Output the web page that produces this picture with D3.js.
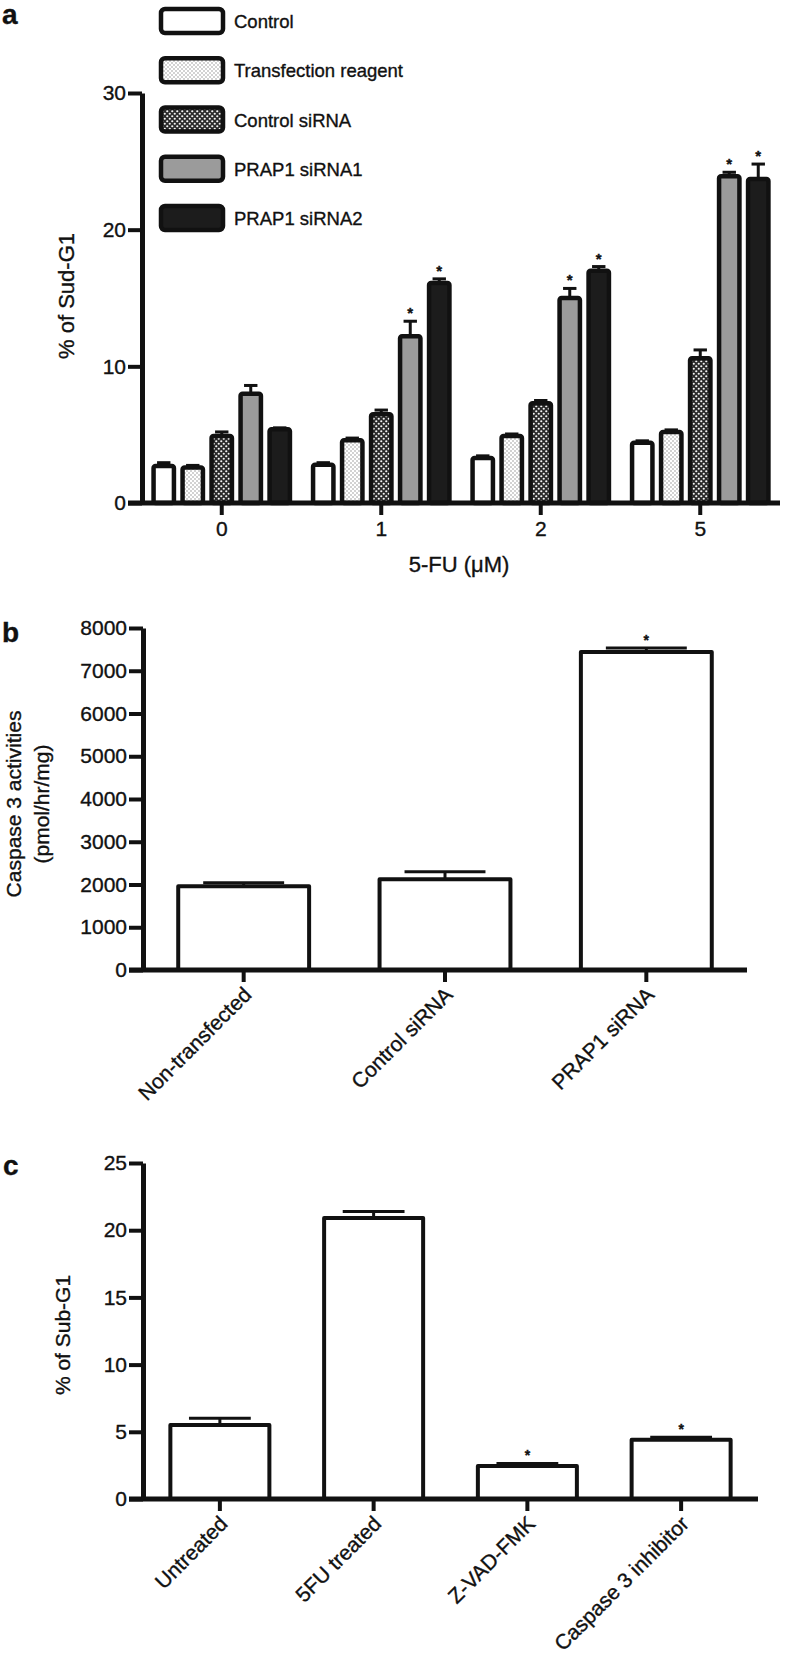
<!DOCTYPE html>
<html>
<head>
<meta charset="utf-8">
<script src="https://cdn.jsdelivr.net/npm/d3@7"></script>
<style>
  html, body { margin: 0; padding: 0; background: #fff; }
  svg text { font-family: "Liberation Sans", Arial, Helvetica, sans-serif; fill: #111; stroke: #111; stroke-width: 0.35px; }
</style>
</head>
<body>
<div id="chart"></div>
<script>
// ---- panel a data ----
const doses = ['0', '1', '2', '5'];
const seriesNames = ['Control', 'Transfection reagent', 'Control siRNA', 'PRAP1 siRNA1', 'PRAP1 siRNA2'];
const controlVals = [2.7, 2.8, 3.3, 4.4];
const transfVals = [2.6, 4.6, 4.9, 5.2];
const ctrlSiVals = [4.9, 6.5, 7.3, 10.6];
const si1Vals = [8.0, 12.2, 15.0, 23.9];
const si2Vals = [5.4, 16.1, 17.0, 23.7];
const controlErr = [0.25, 0.15, 0.15, 0.15];
const transfErr = [0.15, 0.15, 0.15, 0.15];
const ctrlSiErr = [0.3, 0.3, 0.2, 0.6];
const si1Err = [0.6, 1.1, 0.7, 0.3];
const si2Err = [0.1, 0.3, 0.3, 1.1];
const si1Star = [false, true, true, true];
const si2Star = [false, true, true, true];
const aTicks = [0, 10, 20, 30];

// ---- panel b data ----
const bCats = ['Non-transfected', 'Control siRNA', 'PRAP1 siRNA'];
const bVals = [1960, 2120, 7440];
const bErr = [80, 180, 90];
const bStar = [false, false, true];
const bTicks = [0, 1000, 2000, 3000, 4000, 5000, 6000, 7000, 8000];

// ---- panel c data ----
const cCats = ['Untreated', '5FU treated', 'Z-VAD-FMK', 'Caspase 3 inhibitor'];
const cVals = [5.5, 20.9, 2.45, 4.4];
const cErr = [0.5, 0.5, 0.2, 0.2];
const cStar = [false, false, true, true];
const cTicks = [0, 5, 10, 15, 20, 25];

const W = 789, H = 1656;
const ink = '#111';
const font = 21;

const svg = d3.select('#chart').append('svg')
  .attr('width', W).attr('height', H);

// patterns for the dotted bars
const defs = svg.append('defs');
const pLight = defs.append('pattern').attr('id', 'dotsLight')
  .attr('patternUnits', 'userSpaceOnUse').attr('width', 4).attr('height', 4);
pLight.append('rect').attr('width', 4).attr('height', 4).attr('fill', '#fff');
pLight.append('circle').attr('cx', 1).attr('cy', 1).attr('r', 0.8).attr('fill', '#999');
pLight.append('circle').attr('cx', 3).attr('cy', 3).attr('r', 0.8).attr('fill', '#999');

const pDark = defs.append('pattern').attr('id', 'dotsDark')
  .attr('patternUnits', 'userSpaceOnUse').attr('width', 5).attr('height', 5);
pDark.append('rect').attr('width', 5).attr('height', 5).attr('fill', '#2a2a2a');
pDark.append('circle').attr('cx', 1.25).attr('cy', 1.25).attr('r', 1.1).attr('fill', '#f4f4f4');
pDark.append('circle').attr('cx', 3.75).attr('cy', 3.75).attr('r', 1.1).attr('fill', '#f4f4f4');

const seriesFill = ['#fff', 'url(#dotsLight)', 'url(#dotsDark)', '#9b9b9b', '#1c1c1c'];

function panelLabel(txt, x, y) {
  svg.append('text').attr('x', x).attr('y', y)
    .attr('font-size', 28).attr('font-weight', 'bold').text(txt);
}

// y axis with thick spine and ticks
function drawYAxis(y, x0, ticks, fmt) {
  const g = svg.append('g').attr('transform', `translate(${x0},0)`)
    .call(d3.axisLeft(y).tickValues(ticks).tickSize(14).tickSizeOuter(0).tickPadding(2).tickFormat(fmt));
  g.select('.domain').attr('stroke', ink).attr('stroke-width', 5);
  g.selectAll('.tick line').attr('stroke', ink).attr('stroke-width', 4);
  g.selectAll('.tick text').attr('font-size', font).attr('fill', ink)
    .attr('font-family', '"Liberation Sans", Arial, sans-serif');
  return g;
}

// bottom axis: spine from left tick to the end, small ticks under categories
function drawXAxis(x, y0, xStart, xEnd, showLabels) {
  svg.append('line').attr('x1', xStart).attr('x2', xEnd)
    .attr('y1', y0).attr('y2', y0).attr('stroke', ink).attr('stroke-width', 5);
  const g = svg.append('g').attr('transform', `translate(0,${y0})`)
    .call(d3.axisBottom(x).tickSize(12).tickSizeOuter(0).tickPadding(6));
  g.select('.domain').remove();
  g.selectAll('.tick line').attr('stroke', ink).attr('stroke-width', 4);
  g.selectAll('.tick text').attr('font-size', font).attr('fill', ink)
    .attr('font-family', '"Liberation Sans", Arial, sans-serif');
  if (!showLabels) g.selectAll('.tick text').remove();
  return g;
}

function errBars(g, data, xf, yf, capW) {
  g.selectAll('line.ev').data(data).join('line').attr('class', 'ev')
    .attr('x1', d => xf(d)).attr('x2', d => xf(d))
    .attr('y1', d => yf(d.v)).attr('y2', d => yf(d.v + d.e))
    .attr('stroke', ink).attr('stroke-width', 3);
  g.selectAll('line.ec').data(data).join('line').attr('class', 'ec')
    .attr('x1', d => xf(d) - capW / 2).attr('x2', d => xf(d) + capW / 2)
    .attr('y1', d => yf(d.v + d.e)).attr('y2', d => yf(d.v + d.e))
    .attr('stroke', ink).attr('stroke-width', 3);
}

// ================= panel a =================
{
  const x0 = 142, x1 = 780, yTop = 93, yBot = 503;
  const y = d3.scaleLinear().domain([0, 30]).range([yBot, yTop]);
  const x = d3.scaleBand().domain(doses).range([x0, x1]).paddingInner(0.12).paddingOuter(0.06);
  const xs = d3.scaleBand().domain(d3.range(5)).range([0, x.bandwidth()]).paddingInner(0.16);

  const vals = [controlVals, transfVals, ctrlSiVals, si1Vals, si2Vals];
  const errs = [controlErr, transfErr, ctrlSiErr, si1Err, si2Err];
  const stars = [doses.map(() => false), doses.map(() => false), doses.map(() => false), si1Star, si2Star];

  const data = [];
  doses.forEach((dose, gi) => {
    vals.forEach((arr, si) => {
      data.push({ dose, s: si, v: arr[gi], e: errs[si][gi], star: stars[si][gi] });
    });
  });

  const g = svg.append('g');
  const cx = d => x(d.dose) + xs(d.s) + xs.bandwidth() / 2;
  errBars(g, data, cx, y, xs.bandwidth() * 0.55);

  g.selectAll('rect.bar').data(data).join('rect').attr('class', 'bar')
    .attr('x', d => x(d.dose) + xs(d.s) + 2)
    .attr('width', xs.bandwidth() - 4)
    .attr('y', d => y(d.v))
    .attr('height', d => y(0) - y(d.v))
    .attr('rx', 2)
    .attr('fill', d => seriesFill[d.s])
    .attr('stroke', ink).attr('stroke-width', 4.5).attr('stroke-linejoin', 'round');

  g.selectAll('text.star').data(data.filter(d => d.star)).join('text').attr('class', 'star')
    .attr('x', cx).attr('y', d => y(d.v + d.e) - 3)
    .attr('text-anchor', 'middle').attr('font-size', 15).attr('font-weight', 'bold').text('*');

  drawXAxis(x, yBot, x0 - 14, x1, true);
  drawYAxis(y, x0, aTicks, d3.format('d'));

  svg.append('text').attr('x', 459).attr('y', 572).attr('text-anchor', 'middle')
    .attr('font-size', 22).text('5-FU (\u03bcM)');
  svg.append('text').attr('transform', `translate(74,296) rotate(-90)`)
    .attr('text-anchor', 'middle').attr('font-size', 22).text('% of Sud-G1');

  // legend
  const leg = svg.append('g').attr('transform', 'translate(161,0)');
  const ly = d3.scalePoint().domain(d3.range(5)).range([21, 218]);
  seriesNames.forEach((name, i) => {
    leg.append('rect').attr('x', 0).attr('y', ly(i) - 12).attr('width', 62).attr('height', 24)
      .attr('rx', 4).attr('fill', seriesFill[i]).attr('stroke', ink).attr('stroke-width', 4.5);
    leg.append('text').attr('x', 73).attr('y', ly(i) + 7).attr('font-size', 18.5).text(name);
  });

  panelLabel('a', 2, 24);
}

// ============ simple bar panels b and c ============
function simplePanel(cats, vals, errs, stars, ticks, yMax, x0, x1, yTop, yBot, fmt) {
  const y = d3.scaleLinear().domain([0, yMax]).range([yBot, yTop]);
  const x = d3.scaleBand().domain(cats).range([x0, x1]).paddingInner(0.33).paddingOuter(0.165);
  const data = cats.map((c, i) => ({ c, v: vals[i], e: errs[i], star: stars[i] }));
  const g = svg.append('g');
  const cx = d => x(d.c) + x.bandwidth() / 2;
  errBars(g, data, cx, y, x.bandwidth() * 0.6);
  g.selectAll('rect.bar').data(data).join('rect').attr('class', 'bar')
    .attr('x', d => x(d.c) + 2).attr('width', x.bandwidth() - 4)
    .attr('y', d => y(d.v)).attr('height', d => y(0) - y(d.v))
    .attr('fill', '#fff').attr('stroke', ink).attr('stroke-width', 4)
    .attr('stroke-linejoin', 'round');
  g.selectAll('text.star').data(data.filter(d => d.star)).join('text').attr('class', 'star')
    .attr('x', cx).attr('y', d => y(d.v + d.e) - 3)
    .attr('text-anchor', 'middle').attr('font-size', 14).attr('font-weight', 'bold').text('*');

  drawXAxis(x, yBot, x0 - 14, x1, false);
  drawYAxis(y, x0, ticks, fmt);

  // slanted category labels
  svg.append('g').selectAll('text').data(cats).join('text')
    .attr('transform', d => `translate(${x(d) + x.bandwidth() / 2 + 9},${yBot + 26}) rotate(-45)`)
    .attr('text-anchor', 'end').attr('font-size', font).text(d => d);
  return { x, y };
}

simplePanel(bCats, bVals, bErr, bStar, bTicks, 8000, 143, 747, 628, 970, d3.format('d'));
svg.append('text').attr('transform', 'translate(21,804) rotate(-90)')
  .attr('text-anchor', 'middle').attr('font-size', font).text('Caspase 3 activities');
svg.append('text').attr('transform', 'translate(49,804) rotate(-90)')
  .attr('text-anchor', 'middle').attr('font-size', font).text('(pmol/hr/mg)');
panelLabel('b', 2, 642);

simplePanel(cCats, cVals, cErr, cStar, cTicks, 25, 143, 758, 1163, 1499, d3.format('d'));
svg.append('text').attr('transform', 'translate(70,1335) rotate(-90)')
  .attr('text-anchor', 'middle').attr('font-size', font).text('% of Sub-G1');
panelLabel('c', 3, 1175);
</script>
</body>
</html>
